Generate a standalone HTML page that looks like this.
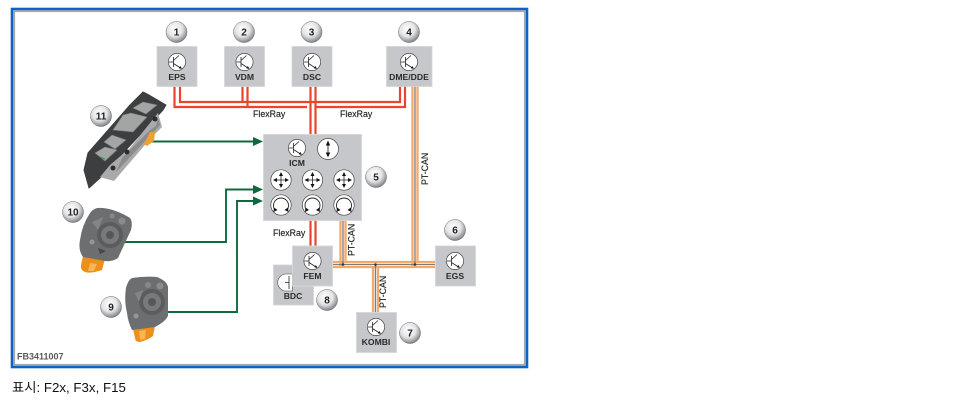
<!DOCTYPE html>
<html><head><meta charset="utf-8">
<style>
html,body{margin:0;padding:0;background:#fff;width:970px;height:409px;overflow:hidden}
svg{display:block;position:absolute;left:0;top:0;filter:blur(.3px)}
text{font-family:"Liberation Sans","Noto Sans CJK KR",sans-serif}
.b{font-size:8.6px;fill:#2a2a2a;text-anchor:middle;font-weight:bold;stroke:none}
.l{font-size:8.8px;fill:#222;stroke:#222;stroke-width:.15}
.n{font-size:10px;font-weight:bold;fill:#222;text-anchor:middle;stroke:none}
.cap{position:absolute;left:12px;top:380px;font:13.3px/16px "Liberation Sans","Noto Sans CJK KR",sans-serif;color:#111;white-space:nowrap}
</style></head><body>
<svg width="970" height="409" viewBox="0 0 970 409" xmlns="http://www.w3.org/2000/svg">
<defs>
<radialGradient id="g" cx="0.42" cy="0.36" r="0.72"><stop offset="0" stop-color="#fff"/><stop offset="0.5" stop-color="#e4e4e6"/><stop offset="0.8" stop-color="#9a9b9f"/><stop offset="1" stop-color="#5f6064"/></radialGradient>
<g id="tr"><circle r="8.6" fill="#fff" stroke="#444" stroke-width=".7"/><path d="M-3.500-5V5M-8 0H-3.500M-3.500-1.500L2-6.500M-3.500 1.500L3.500 6" stroke="#222" stroke-width=".8" fill="none"/><path d="M5 7L1.800 6.200 3.400 4Z" fill="#111"/></g>
<g id="cr"><circle r="10.2" fill="#fff" stroke="#444" stroke-width=".7"/><path d="M0-7V7M-7 0H7" stroke="#222" stroke-width=".8"/><path d="M0-8L-2-4H2ZM0 8L-2 4H2ZM-8 0L-4-2V2ZM8 0L4-2V2Z" fill="#111"/></g>
<g id="ar"><circle r="10.2" fill="#fff" stroke="#444" stroke-width=".7"/><path d="M-6 5A7.500 7.500 0 1 1 6 5" stroke="#222" stroke-width=".9" fill="none"/><path d="M-7.500 7L-7 2.500-3.500 5ZM7.500 7L7 2.500 3.500 5Z" fill="#111"/></g>
<g id="ud"><circle r="10.500" fill="#fff" stroke="#444" stroke-width=".7"/><path d="M0-7V7" stroke="#222" stroke-width=".9"/><path d="M0-8.500L-2.200-3.500H2.200ZM0 8.500L-2.200 3.500H2.200Z" fill="#111"/></g>
</defs>
<rect x="12" y="9" width="515" height="358" fill="#fff" stroke="#0a62c4" stroke-width="2.600"/>
<rect x="14.200" y="11.200" width="510.600" height="353.600" fill="none" stroke="#a4a5ab" stroke-width="1.800"/>
<g fill="none" stroke="#e8452c" stroke-width="2.200">
<path d="M174.500 86V107H307M315 107H405V86"/>
<path d="M180 86V102H400V86"/>
<path d="M242.500 86V102M247.500 86V107"/>
<path d="M310.500 86V134M315.500 86V134"/>
<path d="M310.500 220V246M315.500 220V246"/>
</g>
<g fill="none">
<g stroke="#f6a867" stroke-width="2.300">
<path d="M412.500 86V268M417.500 86V262"/>
<path d="M340.500 220V268M345.500 220V262"/>
<path d="M332 262H435M332 267H435"/>
<path d="M373 267V312M378 267V312"/>
</g>
<g stroke="#777d83" stroke-width="1.300">
<path d="M415 86V264.500M343 220V264.500M332 264.500H435M375.500 264.500V312" />
</g>
</g>
<g fill="#333"><circle cx="343" cy="264.500" r="1.300"/><circle cx="375.500" cy="264.500" r="1.300"/><circle cx="415" cy="264.500" r="1.300"/></g>
<g fill="none" stroke="#0b6b3f" stroke-width="1.900">
<path d="M152 141.500H254"/>
<path d="M125 242H226V189.500H254"/>
<path d="M168 312H237V201H254"/>
</g>
<g fill="#0b6b3f"><path d="M263 141.500L253 137V146ZM263 189.500L253 185V194ZM263 201L253 196.500V205.500Z"/></g>
<g fill="#c6c7ca" stroke="#d4d5d7" stroke-width=".8">
<rect x="157" y="46.500" width="40" height="40"/>
<rect x="224.500" y="46.500" width="40" height="40"/>
<rect x="292" y="46.500" width="40" height="40"/>
<rect x="386.500" y="46.500" width="45.500" height="40"/>
<rect x="263.500" y="134.500" width="98" height="86"/>
<rect x="273.500" y="265" width="40" height="40"/>
<rect x="292.500" y="246" width="40" height="40"/>
<rect x="435.500" y="246" width="40" height="40"/>
<rect x="356.500" y="312.500" width="40" height="40"/>
</g>
<use href="#tr" x="177" y="62"/><use href="#tr" x="244.500" y="62"/><use href="#tr" x="312" y="62"/><use href="#tr" x="409" y="62"/>
<use href="#tr" x="297" y="148"/><use href="#ud" x="328" y="149"/>
<use href="#cr" x="281" y="180"/><use href="#cr" x="312.500" y="180"/><use href="#cr" x="344" y="180"/>
<use href="#ar" x="281" y="205"/><use href="#ar" x="312.500" y="205"/><use href="#ar" x="344" y="205"/>
<use href="#tr" x="312.500" y="261"/><use href="#tr" x="455" y="261"/><use href="#tr" x="376" y="327"/>
<path d="M292.500 274H285A8.600 8.600 0 0 0 285 291H292.500Z" fill="#fff" stroke="#444" stroke-width=".6"/>
<path d="M289 276V289M285 282.500H289" stroke="#222" stroke-width=".8"/>
<rect x="292.500" y="246" width="40" height="40" fill="none" stroke="#d8d9db" stroke-width=".8"/>
<text class="b" x="177" y="80">EPS</text>
<text class="b" x="244.500" y="80">VDM</text>
<text class="b" x="312" y="80">DSC</text>
<text class="b" x="409" y="80">DME/DDE</text>
<text class="b" x="297" y="166">ICM</text>
<text class="b" x="312.500" y="279">FEM</text>
<text class="b" x="293" y="299">BDC</text>
<text class="b" x="455" y="279">EGS</text>
<text class="b" x="376" y="345">KOMBI</text>
<text class="l" x="253" y="117">FlexRay</text>
<text class="l" x="340" y="117">FlexRay</text>
<text class="l" x="273" y="236">FlexRay</text>
<text class="l" transform="translate(428 185) rotate(-90)">PT-CAN</text>
<text class="l" transform="translate(354.500 256) rotate(-90)">PT-CAN</text>
<text class="l" transform="translate(386 308) rotate(-90)">PT-CAN</text>
<!-- switch 11 -->
<path d="M143 92L149 95 166 105 163 110 100 178 89 188 84 170 88 153 130 105Z" fill="#3d3e3f" stroke="#3d3e3f" stroke-linejoin="round"/>
<path d="M158 113L162 127 150 139 114 181 100 177 110 165 130 148Z" fill="#a9aaa9"/>
<path d="M122 158L150 130 156 126 158 118 160 125 150 136 116 172Z" fill="#8a8b8a"/>
<path d="M150 132L155 132 154 141 147 146 144 144Z" fill="#f0a02e"/>
<g fill="#a3a5a5" stroke="#77797a" stroke-width=".6">
<path d="M133 108L143 102 157 105 146 114Z"/>
<path d="M123 115L131 113 147 117 133 132 113 130Z"/>
<path d="M104 142L112 135 126 140 115 149Z"/>
<path d="M95 153L105 147 117 150 105 161Z"/>
</g>
<g fill="#2c2d2e"><circle cx="155" cy="119" r="2.500"/><circle cx="127" cy="152" r="2.500"/><circle cx="113" cy="168" r="2.500"/></g>
<path d="M100 157L105 159" stroke="#2f9a55" stroke-width="1"/>
<!-- knob 10 -->
<path d="M83 256L105 259 102 270Q90 274 85 272Q80 270 81 265Z" fill="#ee8f1c"/>
<path d="M90 263L97 264 94 271 88 271Z" fill="#f8b552"/>
<path d="M97 208Q112 207 130 218Q133 222 131 230Q124 245 118 258Q112 262 105 261L83 257Q78 250 80 240Q82 225 90 213Q93 209 97 208Z" fill="#6c6e70"/>
<circle cx="110" cy="235" r="13" fill="#5a5c5e"/><circle cx="110" cy="235" r="9" fill="#77797b"/><circle cx="110" cy="235" r="4" fill="#55575a"/>
<circle cx="122" cy="221" r="3.500" fill="#8a8c8e"/><circle cx="112" cy="216" r="2.500" fill="#86888a"/><circle cx="92" cy="242" r="2.500" fill="#94969a"/>
<path d="M92 222L103 217 98 230Z" fill="#828486"/><path d="M98 248L106 251 100 254Z" fill="#45474a"/>
<!-- knob 9 -->
<path d="M133 329L155 326 153 336Q148 340 140 342Q135 342 135 338Z" fill="#ee8f1c"/>
<path d="M139 331L146 330 145 339 140 340Z" fill="#f8b552"/>
<path d="M132 278Q145 276 157 277Q167 281 168 287V316Q165 322 155 327L132 330Q128 322 127 313Q124 300 126 288Q128 280 132 278Z" fill="#6c6e70"/>
<circle cx="152" cy="302" r="13" fill="#5a5c5e"/><circle cx="152" cy="302" r="9" fill="#77797b"/><circle cx="152" cy="302" r="4" fill="#55575a"/>
<circle cx="160" cy="286" r="3.500" fill="#8a8c8e"/><circle cx="148" cy="285" r="3" fill="#86888a"/><circle cx="136" cy="316" r="2.500" fill="#94969a"/>
<path d="M135 293L143 290 139 302Z" fill="#828486"/>
<g stroke="#666" stroke-width=".5" fill="url(#g)">
<circle cx="176.500" cy="32" r="10.500"/><circle cx="244" cy="32" r="10.500"/><circle cx="311.500" cy="32" r="10.500"/><circle cx="409" cy="32" r="10.500"/>
<circle cx="376" cy="177" r="10.500"/><circle cx="455" cy="230" r="10.500"/><circle cx="410" cy="333" r="10.500"/><circle cx="327" cy="300" r="10.500"/>
<circle cx="111" cy="307" r="10.500"/><circle cx="73" cy="212" r="10.500"/><circle cx="101" cy="116" r="10.500"/>
</g>
<text class="n" x="176.500" y="35.500">1</text><text class="n" x="244" y="35.500">2</text><text class="n" x="311.500" y="35.500">3</text><text class="n" x="409" y="35.500">4</text>
<text class="n" x="376" y="180.500">5</text><text class="n" x="455" y="233.500">6</text><text class="n" x="410" y="336.500">7</text><text class="n" x="327" y="303.500">8</text>
<text class="n" x="111" y="310.500">9</text><text class="n" x="73" y="215.500">10</text><text class="n" x="101" y="119.500">11</text>
<text x="17" y="359.500" style="font-size:9px;font-weight:bold;fill:#5a5a5a">FB3411007</text>
</svg>
<div class="cap">표시: F2x, F3x, F15</div>
</body></html>
